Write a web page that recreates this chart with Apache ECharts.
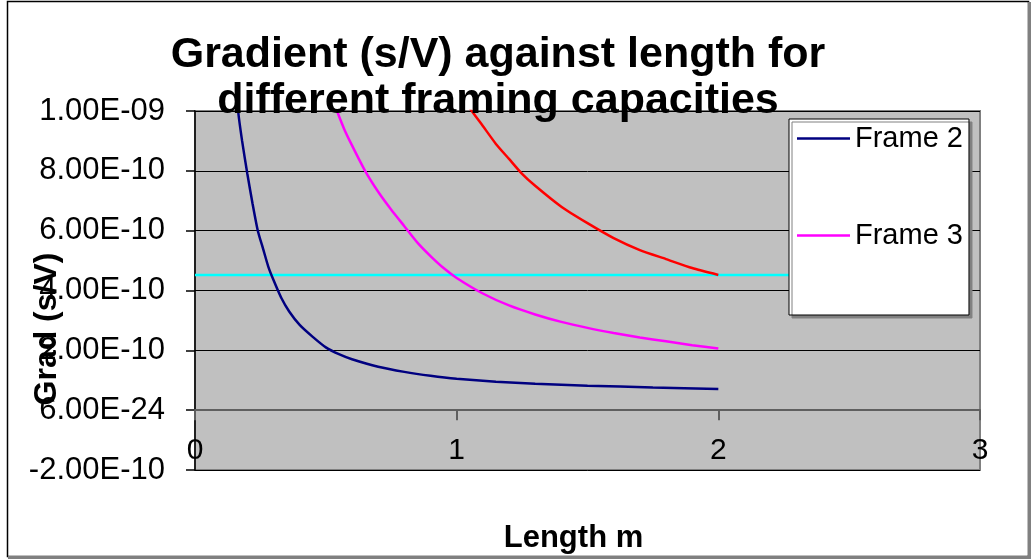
<!DOCTYPE html>
<html>
<head>
<meta charset="utf-8">
<script src="https://cdn.jsdelivr.net/npm/echarts@6/dist/echarts.min.js"></script>
<style>
  html, body { margin: 0; padding: 0; background: #ffffff; }
  #chart { width: 1032px; height: 560px; }
</style>
</head>
<body>
<div id="chart"></div>
<script>
// Gradient (s/V) versus length, one curve per framing capacity
const frame2X = [0.15, 0.165, 0.18, 0.2, 0.22, 0.24, 0.26, 0.28, 0.3, 0.33, 0.36, 0.4, 0.45, 0.5, 0.55, 0.6, 0.7, 0.8, 0.9, 1.0, 1.15, 1.3, 1.5, 1.75, 2.0];
const frame2Y = [12.5e-10, 10.0e-10, 9.0e-10, 7.9e-10, 6.9e-10, 6.0e-10, 5.4e-10, 4.8e-10, 4.35e-10, 3.75e-10, 3.3e-10, 2.85e-10, 2.45e-10, 2.1e-10, 1.87e-10, 1.7e-10, 1.45e-10, 1.28e-10, 1.15e-10, 1.05e-10, 0.95e-10, 0.88e-10, 0.82e-10, 0.76e-10, 0.71e-10];

const frame3X = [0.51, 0.535, 0.57, 0.6, 0.65, 0.7, 0.75, 0.8, 0.85, 0.9, 0.95, 1.0, 1.1, 1.2, 1.3, 1.4, 1.5, 1.6, 1.7, 1.8, 1.9, 2.0];
const frame3Y = [11e-10, 10.2e-10, 9.4e-10, 8.85e-10, 8.0e-10, 7.3e-10, 6.7e-10, 6.15e-10, 5.6e-10, 5.15e-10, 4.75e-10, 4.42e-10, 3.9e-10, 3.5e-10, 3.2e-10, 2.95e-10, 2.75e-10, 2.58e-10, 2.43e-10, 2.3e-10, 2.17e-10, 2.06e-10];

const frame4X = [1.0, 1.05, 1.1, 1.15, 1.2, 1.25, 1.3, 1.4, 1.5, 1.6, 1.7, 1.8, 1.9, 2.0];
const frame4Y = [10.9e-10, 10.1e-10, 9.5e-10, 8.9e-10, 8.4e-10, 7.9e-10, 7.5e-10, 6.8e-10, 6.25e-10, 5.75e-10, 5.35e-10, 5.05e-10, 4.75e-10, 4.52e-10];

const thresholdX = [0, 2.5];
const thresholdY = [4.52e-10, 4.52e-10];

const yTickLabels = ['-2.00E-10', '6.00E-24', '2.00E-10', '4.00E-10', '6.00E-10', '8.00E-10', '1.00E-09'];
const xTickLabels = ['0', '1', '2', '3'];

const zip = (xs, ys) => xs.map((x, i) => [x, ys[i]]);
const FONT = 'Liberation Sans, Arial, sans-serif';

function curve(name, xs, ys, color, z) {
  return {
    name: name,
    type: 'line',
    data: zip(xs, ys),
    smooth: 0.2,
    symbol: 'none',
    showSymbol: false,
    clip: true,
    lineStyle: { color: color, width: 2.5 },
    itemStyle: { color: color },
    z: z
  };
}

const chart = echarts.init(document.getElementById('chart'), null, { renderer: 'canvas' });

chart.setOption({
  animation: false,
  backgroundColor: '#ffffff',
  graphic: [
    {
      type: 'rect',
      shape: { x: 7.5, y: 1.5, width: 1021, height: 555 },
      style: { fill: 'none', stroke: '#000000', lineWidth: 1.5 },
      z: -10
    },
    {
      type: 'polyline',
      shape: { points: [[1029.5, 2], [1029.5, 557.5], [8, 557.5]] },
      style: { fill: 'none', stroke: '#808080', lineWidth: 3 },
      z: -9
    }
  ],
  title: {
    text: 'Gradient (s/V) against length for\ndifferent framing capacities',
    left: 493,
    top: 27,
    textAlign: 'center',
    textStyle: {
      fontFamily: FONT,
      fontSize: 43,
      fontWeight: 'bold',
      color: '#000000',
      lineHeight: 46
    },
    z: 10
  },
  legend: {
    data: ['Frame 2', 'Frame 3'],
    orient: 'vertical',
    left: 789,
    top: 119,
    padding: [5, 6, 65, 8],
    icon: 'rect',
    itemWidth: 53,
    itemHeight: 2.5,
    itemGap: 68,
    backgroundColor: '#ffffff',
    borderColor: '#000000',
    borderWidth: 1,
    shadowColor: '#808080',
    shadowOffsetX: 3,
    shadowOffsetY: 3,
    shadowBlur: 0,
    textStyle: { fontFamily: FONT, fontSize: 29, color: '#000000' }
  },
  grid: {
    left: 195,
    right: 52,
    top: 111,
    bottom: 90,
    show: true,
    backgroundColor: '#c0c0c0',
    borderColor: '#808080',
    borderWidth: 2,
    containLabel: false,
    outerBoundsMode: 'none'
  },
  xAxis: {
    type: 'value',
    min: 0,
    max: 3,
    interval: 1,
    name: 'Length m',
    nameLocation: 'middle',
    nameGap: 53,
    nameMoveOverlap: false,
    nameTextStyle: { fontFamily: FONT, fontSize: 31, fontWeight: 'bold', color: '#000000', padding: [0, 28, 0, 0] },
    axisLine: { onZero: true, lineStyle: { color: '#5f5f5f', width: 2 } },
    axisTick: { show: true, inside: false, length: 10, lineStyle: { color: '#5f5f5f', width: 2 } },
    axisLabel: {
      margin: -34,
      fontFamily: FONT,
      fontSize: 30,
      color: '#000000',
      formatter: (v) => xTickLabels[Math.round(v)]
    },
    splitLine: { show: false },
    z: 5
  },
  yAxis: {
    type: 'value',
    min: -2e-10,
    max: 1e-9,
    interval: 2e-10,
    name: 'Grad (s/V)',
    nameLocation: 'middle',
    nameGap: 132,
    nameMoveOverlap: false,
    nameRotate: 90,
    nameTextStyle: { fontFamily: FONT, fontSize: 32, fontWeight: 'bold', color: '#000000', padding: [0, 77, 0, 0] },
    axisLine: { show: true, onZero: false, lineStyle: { color: '#000000', width: 1.5 } },
    axisTick: { show: true, inside: false, length: 9, lineStyle: { color: '#000000', width: 1.5 } },
    axisLabel: {
      margin: 30,
      fontFamily: FONT,
      fontSize: 31,
      color: '#000000',
      formatter: (v, i) => yTickLabels[i]
    },
    splitLine: { show: true, lineStyle: { color: '#000000', width: 1 } }
  },
  series: [
    curve('Frame 2', frame2X, frame2Y, '#000080', 3),
    curve('Frame 3', frame3X, frame3Y, '#ff00ff', 3),
    curve('Frame 4', frame4X, frame4Y, '#ff0000', 3),
    curve('Threshold', thresholdX, thresholdY, '#00ffff', 2)
  ]
});
</script>
</body>
</html>
